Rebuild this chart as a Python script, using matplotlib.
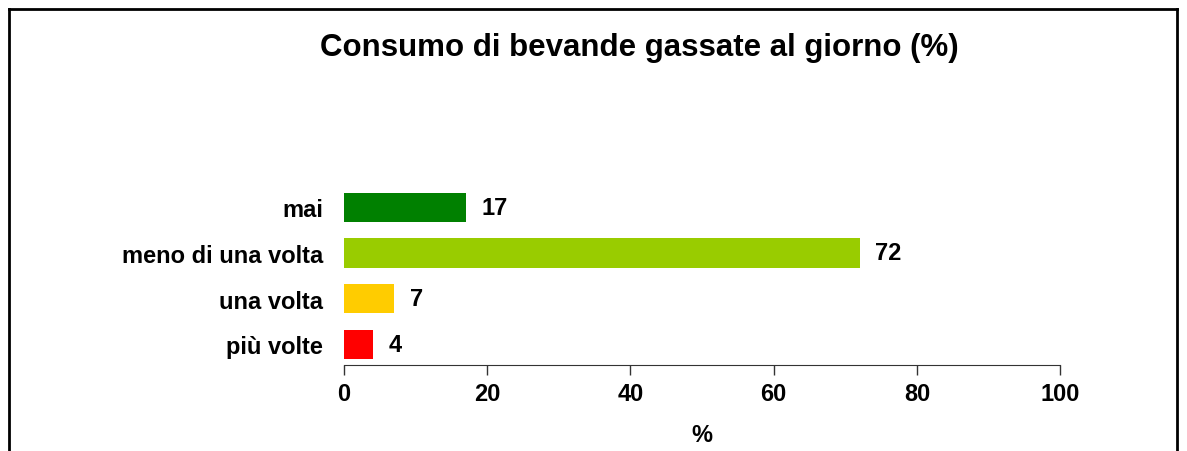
import matplotlib.pyplot as plt
from matplotlib.lines import Line2D

# ----------------------------
# Data
# ----------------------------

categories = ["mai", "meno di una volta", "una volta", "più volte"]
values = [17, 72, 7, 4]
colors = ["#008000", "#99CC00", "#FFCC00", "#FF0000"]
xticks = [0, 20, 40, 60, 80, 100]

plt.rcParams['font.family'] = ['Liberation Sans', 'DejaVu Sans']
plt.rcParams['font.weight'] = 'bold'

fig = plt.figure(figsize=(11.87, 4.52), dpi=100)
ax = fig.add_axes([0.2898, 0.1903, 0.6034, 0.4047])

pos = list(range(len(categories)))[::-1]
ax.barh(pos, values, height=0.64, color=colors)

for p, v in zip(pos, values):
    ax.text(v + 2.2, p, str(v), va='center', ha='left',
            fontsize=17, fontweight='bold')

ax.set_xlim(0, 100)
ax.set_ylim(-0.45, 3.55)
ax.set_yticks(pos)
ax.set_yticklabels(categories, fontsize=17, fontweight='bold')
ax.set_xticks(xticks)
ax.set_xticklabels([str(t) for t in xticks], fontsize=17, fontweight='bold')
ax.tick_params(axis='y', length=0, pad=15)
ax.tick_params(axis='x', direction='out', length=7, width=1, color='#333333', pad=5)
ax.set_xlabel("%", fontsize=17, fontweight='bold', labelpad=13)

for s in ['top', 'right', 'left']:
    ax.spines[s].set_visible(False)
ax.spines['bottom'].set_color('#333333')

fig.text(0.539, 0.893, "Consumo di bevande gassate al giorno (%)",
         ha='center', va='center', fontsize=22.5, fontweight='bold')

# frame around the chart (bottom is cut off)
fig.add_artist(Line2D([9 / 1187, 9 / 1187], [0, 1 - 10 / 452], color='black', lw=2))
fig.add_artist(Line2D([9 / 1187, 1177 / 1187], [1 - 10 / 452, 1 - 10 / 452], color='black', lw=2))
fig.add_artist(Line2D([1177 / 1187, 1177 / 1187], [0, 1 - 10 / 452], color='black', lw=2))

fig.savefig("out.png", dpi=100)
